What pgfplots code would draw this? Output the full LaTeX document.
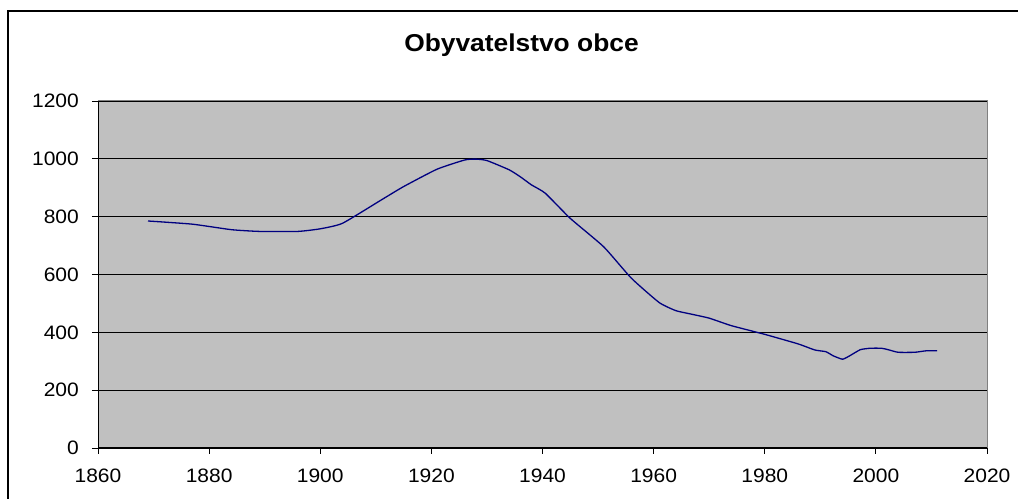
\documentclass[border=0pt]{standalone}
\usepackage{fontspec}
\setmainfont{Liberation Sans}
\usepackage{pgfplots}
\pgfplotsset{compat=1.18}
\definecolor{plotgray}{HTML}{C0C0C0}
\definecolor{framegray}{HTML}{808080}
\definecolor{navyline}{HTML}{000080}
\begin{document}
\begin{tikzpicture}[x=1bp,y=1bp]
\path[use as bounding box] (0,0) rectangle (1018,499);
\draw[line width=2bp] (8.3,-10) -- (8.3,488.3) -- (1040,488.3);
\node[anchor=base, xscale=1.08, font=\fontsize{24.5}{26}\selectfont\bfseries] at (521.5,447) {Obyvatelstvo obce};
\begin{axis}[
  at={(98bp,51bp)}, anchor=south west,
  scale only axis, width=889bp, height=347bp,
  xmin=1860, xmax=2020, ymin=0, ymax=1200,
  xtick={1860,1880,...,2020}, ytick={0,200,...,1200},
  xtick pos=bottom, ytick pos=left,
  tick align=outside, major tick length=6bp,
  tick style={black, line width=0.8bp},
  axis background/.style={fill=plotgray},
  axis line style={draw=framegray, line width=1bp},
  ymajorgrids, major grid style={black, line width=0.8bp},
  /pgf/number format/1000 sep={},
  /pgf/number format/assume math mode=true,
  ticklabel style={font=\fontsize{19.5}{20}\selectfont, xscale=1.08},
  yticklabel style={inner sep=0pt, xshift=-12bp},
  xticklabel style={inner sep=0pt, yshift=-15bp},
]
\addplot[navyline, line width=1.3bp, smooth, tension=0.3] coordinates {
(1869,785) (1877,774) (1884,755) (1889,749) (1896,749) (1900,758)
(1904,777) (1911,858) (1915,904) (1921,964) (1926,996) (1928,999)
(1930,994) (1934,962) (1936,938) (1938,910) (1940.5,881) (1945,794)
(1951,696) (1956,587) (1961,503) (1964,475) (1967,462) (1970,449)
(1974,423) (1980,393) (1986,360) (1989,339) (1991,333) (1992.3,319)
(1994,307) (1995.3,319) (1997.2,340) (1999,345) (2001,345) (2002.2,340)
(2004,331) (2007,331) (2009,336) (2011,336)
};
\draw[black, line width=1bp] (axis cs:1860,0) -- (axis cs:1860,1200);
\draw[black, line width=1bp] (axis cs:1860,0) -- (axis cs:2020,0);
\end{axis}
\end{tikzpicture}
\end{document}
